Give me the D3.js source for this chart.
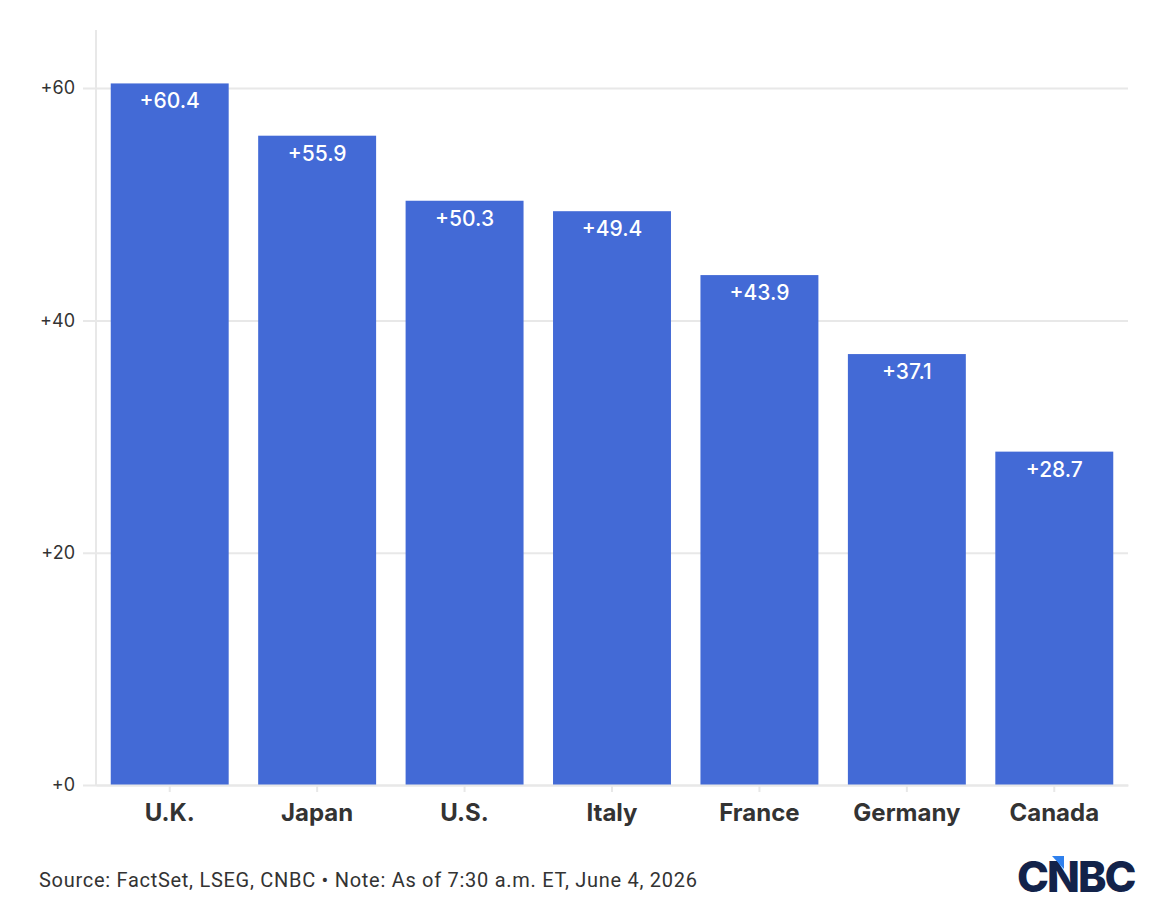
<!DOCTYPE html>
<html>
<head>
<meta charset="utf-8">
<script src="https://cdn.jsdelivr.net/npm/d3@7"></script>
<style>
  body { margin: 0; background: #fff; }
  svg { display: block; font-family: Inter, "Noto Sans", sans-serif; }
</style>
</head>
<body>
<svg id="chart"></svg>
<script>
// chart data
const countries = ['U.K.', 'Japan', 'U.S.', 'Italy', 'France', 'Germany', 'Canada'];
const changes = [60.4, 55.9, 50.3, 49.4, 43.9, 37.1, 28.7];
const yTicks = [0, 20, 40, 60];
const sourceNote = 'Source: FactSet, LSEG, CNBC \u2022 Note: As of 7:30 a.m. ET, June 4, 2026';

const width = 1160, height = 908;
const margin = { top: 30, right: 32, bottom: 123, left: 96 };

const data = countries.map((c, i) => ({ country: c, value: changes[i] }));

const svg = d3.select('#chart')
    .attr('width', width)
    .attr('height', height);

const x = d3.scaleBand()
    .domain(countries)
    .range([margin.left, width - margin.right])
    .paddingInner(0.2)
    .paddingOuter(0.1);

const y = d3.scaleLinear()
    .domain([0, 65])
    .range([height - margin.bottom, margin.top]);

// vertical axis line
svg.append('line')
    .attr('x1', margin.left).attr('x2', margin.left)
    .attr('y1', margin.top).attr('y2', y(0))
    .attr('stroke', '#e8e8e8')
    .attr('stroke-width', 2);

// y axis with gridlines
const yAxis = d3.axisLeft(y)
    .tickValues(yTicks)
    .tickSize(-(width - margin.right - margin.left + 13))
    .tickPadding(8)
    .tickFormat(d => '+' + d);

const yG = svg.append('g')
    .attr('transform', `translate(${margin.left - 13},0)`)
    .call(yAxis);
yG.select('.domain').remove();
yG.selectAll('.tick line')
    .attr('stroke', '#e8e8e8')
    .attr('stroke-width', 2);
yG.selectAll('.tick text')
    .attr('fill', '#333')
    .style('font-size', '18px')
    .style('font-family', 'Inter, sans-serif');

// bars
svg.append('g')
  .selectAll('rect')
    .data(data)
  .join('rect')
    .attr('x', d => x(d.country))
    .attr('y', d => y(d.value))
    .attr('width', x.bandwidth())
    .attr('height', d => y(0) - y(d.value))
    .attr('fill', '#436ad6');

// bar labels
svg.append('g')
  .selectAll('text')
    .data(data)
  .join('text')
    .attr('x', d => x(d.country) + x.bandwidth() / 2)
    .attr('y', d => y(d.value) + 25)
    .attr('text-anchor', 'middle')
    .attr('fill', '#fff')
    .style('font-size', '21px')
    .style('font-weight', 500)
    .text(d => '+' + d.value.toFixed(1));

// x axis
const xAxis = d3.axisBottom(x)
    .tickSize(7)
    .tickPadding(12)
    .tickSizeOuter(0);

const xG = svg.append('g')
    .attr('transform', `translate(0,${y(0)})`)
    .call(xAxis);
xG.select('.domain')
    .attr('stroke', '#e8e8e8')
    .attr('stroke-width', 2);
xG.selectAll('.tick line')
    .attr('stroke', '#e8e8e8')
    .attr('stroke-width', 2);
xG.selectAll('.tick text')
    .attr('fill', '#333')
    .style('font-size', '24px')
    .style('font-weight', 700)
    .style('font-family', 'Inter, sans-serif');

// footer
svg.append('text')
    .attr('x', 39)
    .attr('y', 887)
    .attr('fill', '#333')
    .style('font-family', 'Roboto, sans-serif')
    .style('font-size', '20px')
    .attr('textLength', 658)
    .attr('lengthAdjust', 'spacing')
    .text(sourceNote);

// CNBC logo
const logo = svg.append('g').attr('transform', 'translate(1017,892)');
logo.append('text')
    .attr('x', 0)
    .attr('y', 0)
    .attr('fill', '#13234a')
    .style('font-family', 'Inter, sans-serif')
    .style('font-size', '43px')
    .style('font-weight', 800)
    .style('letter-spacing', '-2px')
    .text('CNBC');
logo.append('path')
    .attr('d', 'M35,-36 L47,-36 L47,-23 Z')
    .attr('fill', '#2f80ed');
</script>
</body>
</html>
